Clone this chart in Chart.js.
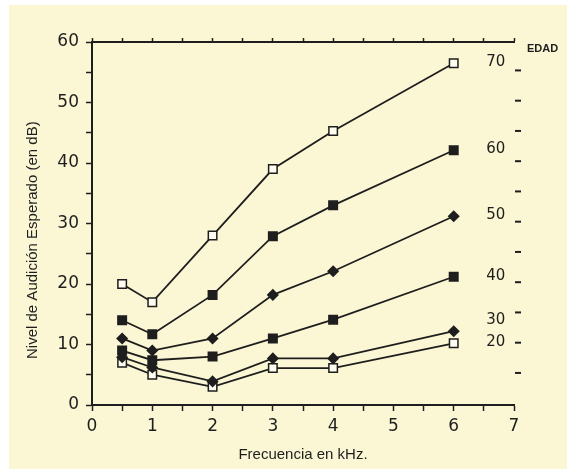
<!DOCTYPE html>
<html>
<head>
<meta charset="utf-8">
<script src="https://cdn.jsdelivr.net/npm/chart.js@4"></script>
<style>
  html, body { margin: 0; padding: 0; background: #ffffff; }
  #paper { position: absolute; left: 9px; top: 5px; width: 558px; height: 464px; background: #fbf7d4; }
  #wrap { position: absolute; left: 0; top: 0; width: 567px; height: 473px; }
</style>
</head>
<body>
<div id="paper"></div>
<div id="wrap"><canvas id="chart" width="567" height="473"></canvas></div>
<script>
// frecuencias en kHz
const freqs = [0.5, 1, 2, 3, 4, 6];
// edades de cada curva
const ages = ['70', '60', '50', '40', '30', '20'];
const age70 = [20, 17, 28, 39, 45.3, 56.5];
const age60 = [14, 11.7, 18.2, 27.9, 33, 42.1];
const age50 = [11, 9, 11, 18.2, 22.1, 31.2];
const age40 = [9, 7.4, 8, 11, 14.1, 21.2];
const age30 = [7.9, 6.2, 3.9, 7.7, 7.7, 12.2];
const age20 = [7, 5, 3, 6.1, 6.1, 10.2];
const seriesValues = [age70, age60, age50, age40, age30, age20];
const markers = ['open', 'square', 'diamond', 'square', 'diamond', 'open'];
// escala de edad a la derecha (marcas)
const edadMarks = [5.3, 10.3, 15.3, 20.3, 25.3, 30.3, 35.3, 40.3, 45.3, 50.3, 55.3];

const ink = '#1e1e1e';

function markerStyle(kind) {
  if (kind === 'diamond') return { pointStyle: 'rectRot', pointRadius: 5, pointBackgroundColor: ink };
  if (kind === 'square') return { pointStyle: 'rect', pointRadius: 6, pointBackgroundColor: ink };
  return { pointStyle: 'rect', pointRadius: 6, pointBackgroundColor: '#fffdf0' };
}

const datasets = seriesValues.map((vals, i) => Object.assign({
  label: ages[i],
  data: vals.map((v, j) => ({ x: freqs[j], y: v })),
  borderColor: ink,
  borderWidth: 1.8,
  pointBorderColor: ink,
  pointBorderWidth: 1.5,
  tension: 0
}, markerStyle(markers[i])));

const edadPlugin = {
  id: 'edad',
  afterDatasetsDraw(chart) {
    const ctx = chart.ctx;
    const xs = chart.scales.x, ys = chart.scales.y;
    const area = chart.chartArea;
    ctx.save();
    // marcas de la escala de edad
    ctx.strokeStyle = ink;
    ctx.lineWidth = 2;
    edadMarks.forEach(v => {
      const y = ys.getPixelForValue(v);
      ctx.beginPath();
      ctx.moveTo(area.right + 1, y);
      ctx.lineTo(area.right + 7, y);
      ctx.stroke();
    });
    // etiquetas de edad junto al ultimo punto
    ctx.fillStyle = ink;
    ctx.font = '15px "DejaVu Sans"';
    ctx.textAlign = 'center';
    ctx.textBaseline = 'middle';
    let prevY = Infinity;
    for (let i = datasets.length - 1; i >= 0; i--) {
      const vals = seriesValues[i];
      let y = ys.getPixelForValue(vals[vals.length - 1]);
      y = Math.min(y, prevY - 22);
      prevY = y;
      ctx.fillText(ages[i], xs.getPixelForValue(freqs[freqs.length - 1]) + 42, y - 1);
    }
    ctx.font = 'bold 11px "Liberation Sans"';
    ctx.textAlign = 'left';
    ctx.fillText('EDAD', area.right + 13, area.top + 7);
    ctx.restore();
  }
};

new Chart(document.getElementById('chart'), {
  type: 'line',
  data: { datasets: datasets },
  options: {
    responsive: false,
    animation: false,
    layout: { padding: { left: 0, right: 53, top: 0, bottom: 0 } },
    plugins: { legend: { display: false }, tooltip: { enabled: false } },
    scales: {
      x: {
        type: 'linear',
        position: 'bottom',
        min: 0, max: 7,
        afterFit(scale) { scale.height = 68; },
        border: { display: true, color: ink, width: 2 },
        grid: { drawOnChartArea: false, drawTicks: true, tickLength: 6, color: ink, tickWidth: 1.5 },
        ticks: {
          stepSize: 0.5, autoSkip: false, maxRotation: 0, padding: 5,
          color: ink, font: { family: 'DejaVu Sans', size: 17 },
          callback: v => Number.isInteger(v) ? String(v) : ''
        },
        title: {
          display: true, text: 'Frecuencia en kHz.', color: ink,
          font: { family: 'Liberation Sans', size: 15 },
          padding: { top: 0, bottom: 9 }
        }
      },
      x2: {
        type: 'linear',
        position: 'top',
        min: 0, max: 7,
        afterFit(scale) { scale.height = 42; },
        border: { display: true, color: ink, width: 2 },
        grid: { drawOnChartArea: false, drawTicks: true, tickLength: 4, color: ink, tickWidth: 1.5 },
        ticks: { stepSize: 0.5, autoSkip: false, display: false }
      },
      y: {
        type: 'linear',
        position: 'left',
        min: 0, max: 60,
        afterFit(scale) { scale.width = 92; },
        border: { display: true, color: ink, width: 2 },
        grid: { drawOnChartArea: false, drawTicks: true, tickLength: 6, color: ink, tickWidth: 1.5 },
        ticks: {
          stepSize: 5, autoSkip: false, padding: 7,
          color: ink, font: { family: 'DejaVu Sans', size: 17 },
          callback: v => v % 10 === 0 ? String(v) : ''
        },
        title: {
          display: true, text: 'Nivel de Audición Esperado (en dB)        ', color: ink,
          font: { family: 'Liberation Sans', size: 15 },
          padding: { top: 24, bottom: 0 }
        }
      }
    }
  },
  plugins: [edadPlugin]
});
</script>
</body>
</html>
